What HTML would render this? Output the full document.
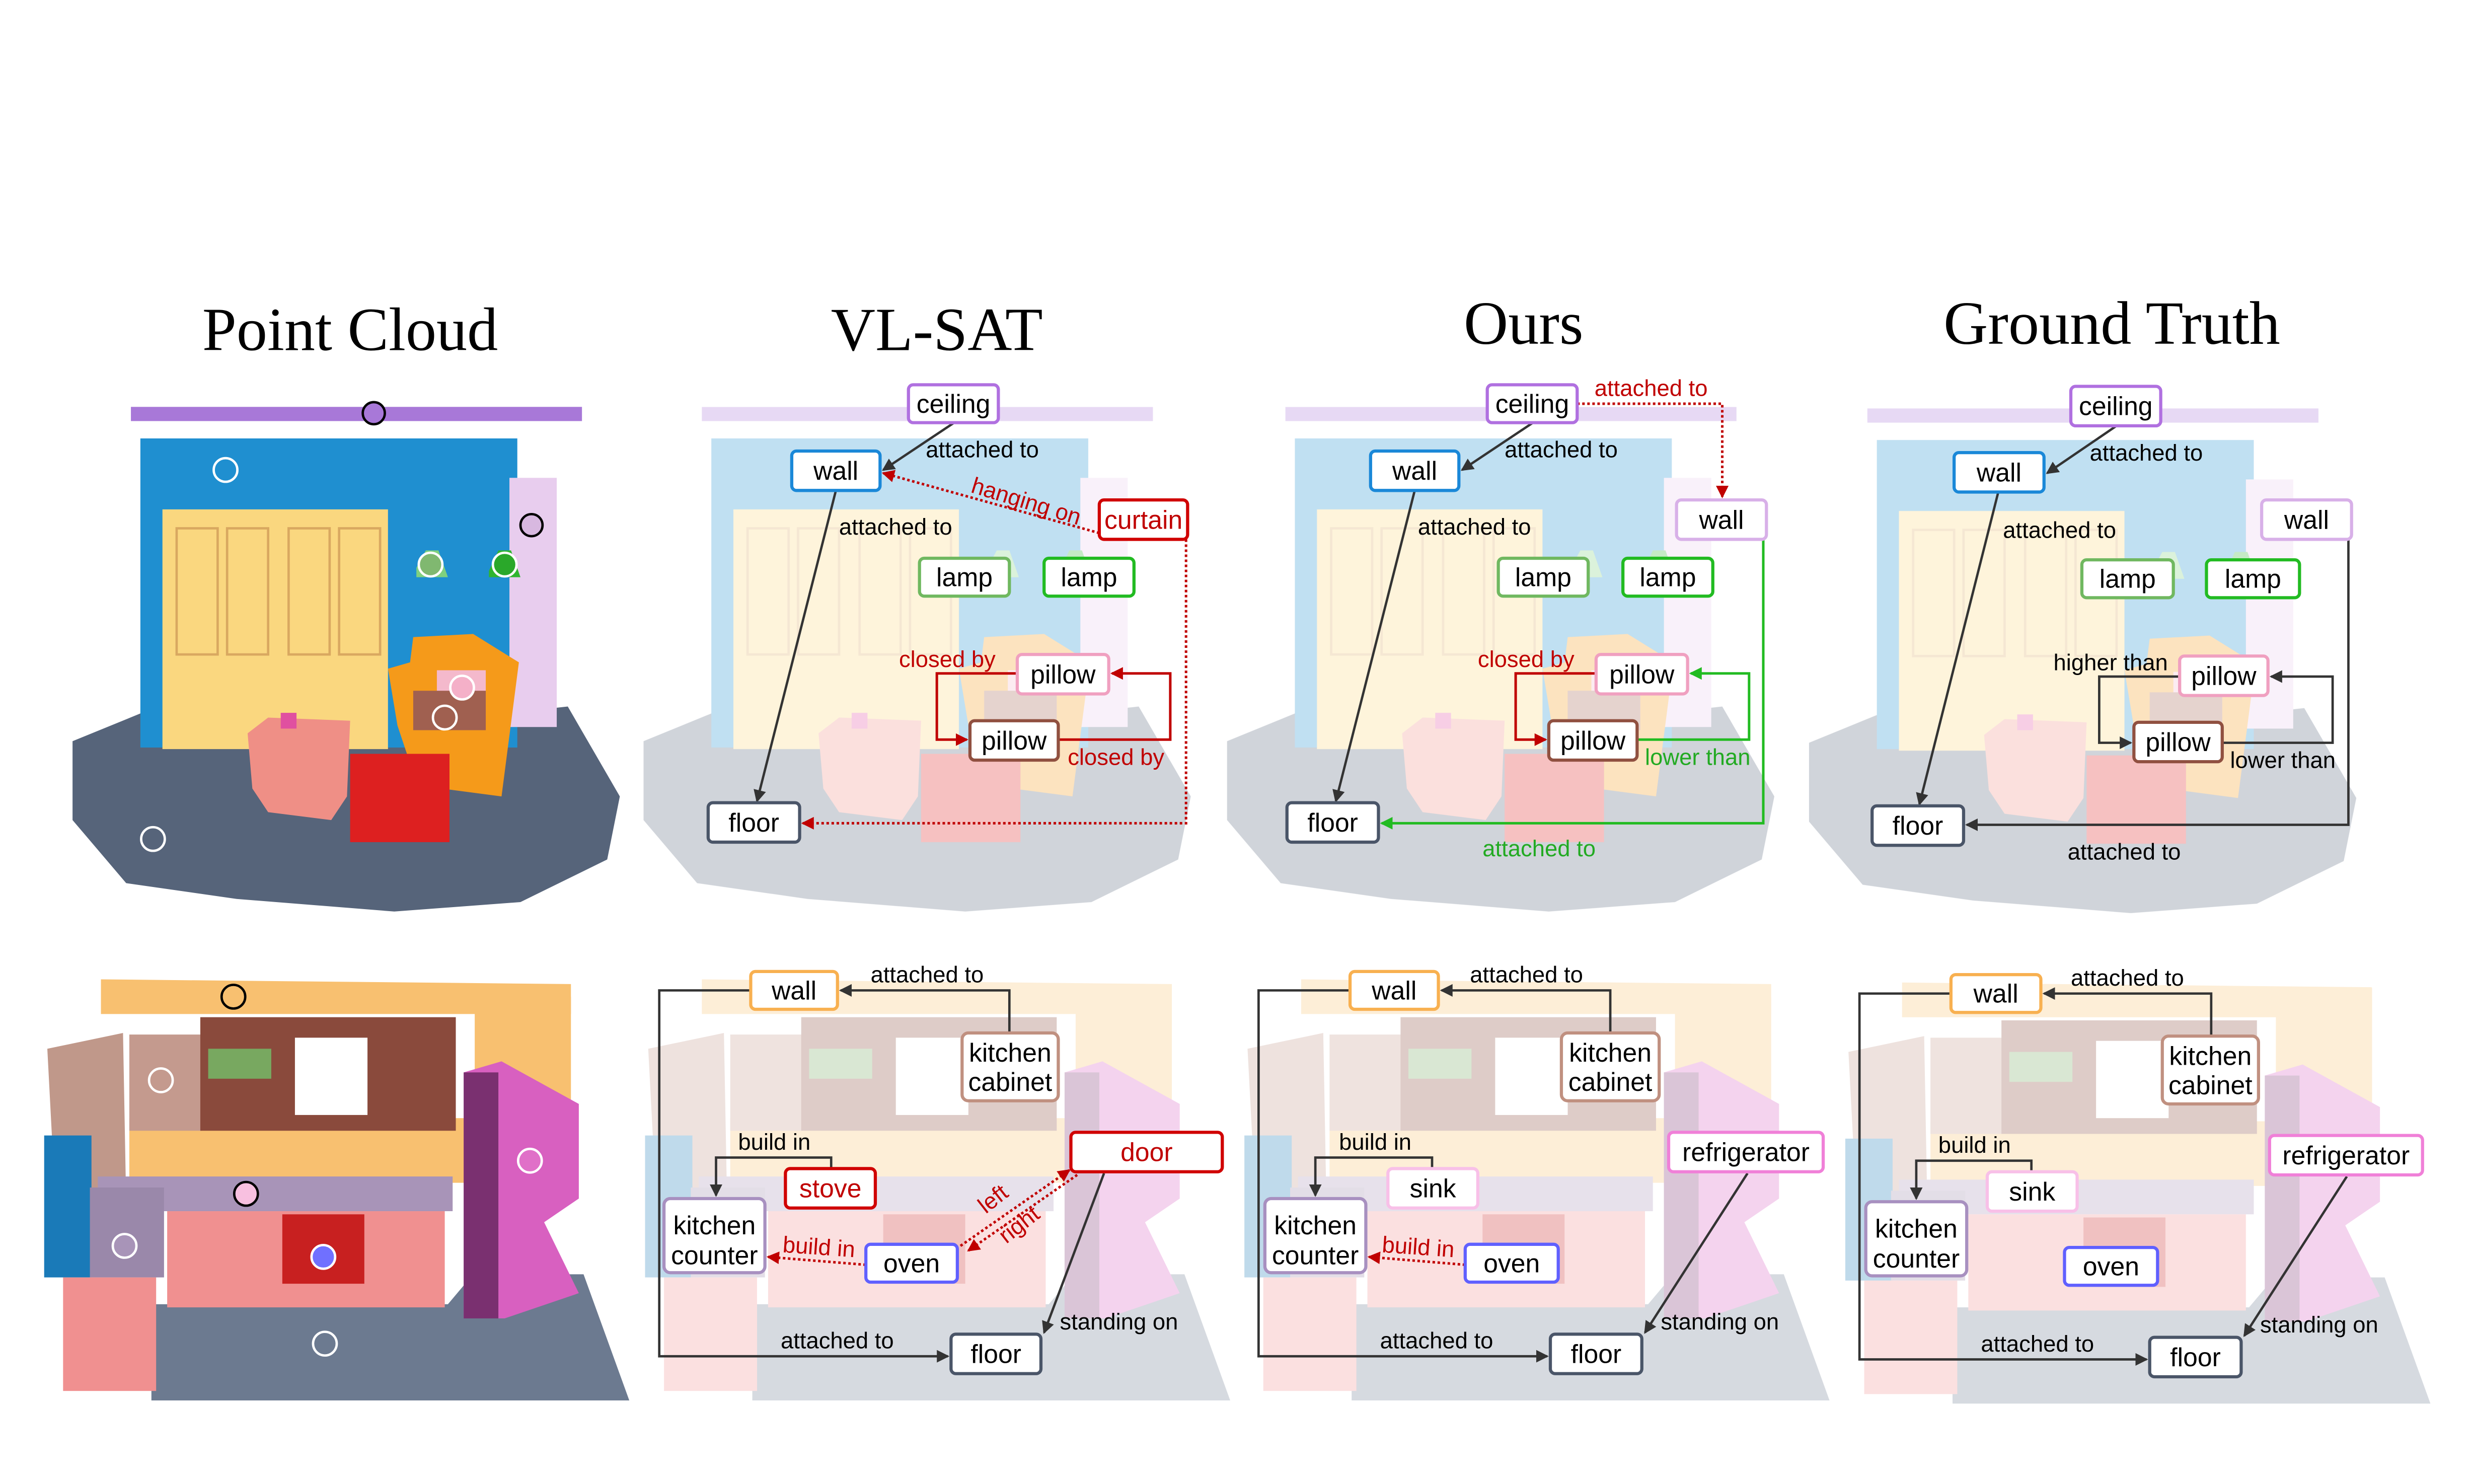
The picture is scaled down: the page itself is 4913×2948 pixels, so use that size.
<!DOCTYPE html>
<html><head><meta charset="utf-8"><style>
html,body{margin:0;padding:0;background:#fff;}
svg{display:block;}
.t{font-family:"Liberation Serif",serif;font-size:39px;fill:#000;text-anchor:middle;}
.n{font-family:"Liberation Sans",sans-serif;font-size:16.5px;fill:#000;text-anchor:middle;dominant-baseline:central;}
.e{font-family:"Liberation Sans",sans-serif;font-size:14.5px;fill:#000;}
.r{fill:#c00000;}
.g{fill:#22aa22;}
.bx{fill:#fff;stroke-width:2;}
.k{fill:none;stroke:#333;stroke-width:1.5;}
.rd{fill:none;stroke:#c00000;stroke-width:1.6;stroke-dasharray:1.6 1.6;}
.rs{fill:none;stroke:#c00000;stroke-width:1.6;}
.gs{fill:none;stroke:#22bb22;stroke-width:1.6;}
</style></head><body>
<svg width="4913" height="2948" viewBox="0 0 1568 941" preserveAspectRatio="none" xmlns="http://www.w3.org/2000/svg">
<defs>
<marker id="ak" markerWidth="8" markerHeight="8" refX="7" refY="4" orient="auto" markerUnits="userSpaceOnUse"><path d="M0,0 L8,4 L0,8 z" fill="#333"/></marker>
<marker id="ar" markerWidth="8" markerHeight="8" refX="7" refY="4" orient="auto" markerUnits="userSpaceOnUse"><path d="M0,0 L8,4 L0,8 z" fill="#c00000"/></marker>
<marker id="ag" markerWidth="8" markerHeight="8" refX="7" refY="4" orient="auto" markerUnits="userSpaceOnUse"><path d="M0,0 L8,4 L0,8 z" fill="#22bb22"/></marker>
<g id="s1">
<path d="M46,470 L90,452 L250,460 L360,448 L393,505 L385,545 L330,572 L250,578 L150,570 L80,560 L46,520 z" fill="#56647a"/>
<rect x="83" y="258" width="286" height="9" fill="#a878d8"/>
<rect x="89" y="278" width="239" height="196" fill="#1f8fd0"/>
<rect x="323" y="303" width="30" height="158" fill="#e8cdee"/>
<rect x="103" y="323" width="143" height="152" fill="#fad77f"/>
<g fill="none" stroke="#d9a860" stroke-width="1.5"><rect x="112" y="335" width="26" height="80"/><rect x="144" y="335" width="26" height="80"/><rect x="183" y="335" width="26" height="80"/><rect x="215" y="335" width="26" height="80"/></g>
<path d="M264,360 L270,349 L278,349 L284,366 L264,366 z" fill="#7fd07f"/>
<path d="M310,362 L316,349 L324,349 L330,366 L310,366 z" fill="#2fb52f"/>
<path d="M252,460 L246,424 L260,420 L262,404 L300,402 L329,420 L318,505 L280,500 L262,490 z" fill="#f59a1a"/>
<rect x="277" y="425" width="31" height="29" fill="#f4b9cc"/>
<rect x="262" y="438" width="46" height="25" fill="#a06050"/>
<path d="M157,465 L170,455 L222,457 L220,505 L210,520 L170,515 L160,500 z" fill="#ef8f86"/>
<rect x="178" y="452" width="10" height="10" fill="#e050a0"/>
<rect x="222" y="478" width="63" height="56" fill="#dd2020"/>
</g>
<g id="s2">
<path d="M96,827 L284,827 L300,808 L370,808 L399,888 L96,888 z" fill="#6c7a90"/>
<rect x="301" y="632" width="61" height="120" fill="#f8c070"/>
<path d="M64,621 L362,624 L362,643 L64,643 z" fill="#f8c070"/>
<rect x="82" y="709" width="219" height="41" fill="#f8c070"/>
<rect x="82" y="656" width="46" height="61" fill="#c49a8e"/>
<rect x="127" y="645" width="162" height="72" fill="#8a4a3c"/>
<rect x="187" y="658" width="46" height="49" fill="#fff"/>
<rect x="132" y="665" width="40" height="19" fill="#78a860"/>
<path d="M30,665 L78,655 L80,763 L35,760 z" fill="#c0988a"/>
<rect x="28" y="720" width="30" height="90" fill="#1a7ab8"/>
<rect x="62" y="746" width="225" height="22" fill="#a894b8"/>
<rect x="57" y="753" width="47" height="57" fill="#9a88aa"/>
<rect x="106" y="768" width="176" height="61" fill="#f09090"/>
<rect x="40" y="810" width="59" height="72" fill="#f09090"/>
<path d="M294,680 L318,673 L367,700 L367,760 L345,775 L367,820 L320,836 L294,836 z" fill="#d860c0"/>
<rect x="294" y="680" width="22" height="156" fill="#7a3070"/>
<rect x="179" y="770" width="52" height="44" fill="#c82020"/>
</g>
</defs>

<text class="t" x="222" y="222">Point Cloud</text>
<text class="t" x="594" y="222">VL-SAT</text>
<text class="t" x="966" y="218">Ours</text>
<text class="t" x="1339" y="218">Ground Truth</text>

<use href="#s1"/>
<g stroke-width="1.5">
<circle cx="237" cy="262" r="7" fill="#a878d8" stroke="#000"/>
<circle cx="143" cy="298" r="7.5" fill="none" stroke="#fff"/>
<circle cx="337" cy="333" r="7" fill="#d8b8e0" stroke="#000"/>
<circle cx="273" cy="358" r="7.5" fill="#80b870" stroke="#fff"/>
<circle cx="320" cy="358" r="7.5" fill="#2aa82a" stroke="#fff"/>
<circle cx="293" cy="436" r="7.5" fill="#f4b0c8" stroke="#fff"/>
<circle cx="282" cy="455" r="7.5" fill="#a06050" stroke="#fff"/>
<circle cx="97" cy="532" r="7.5" fill="none" stroke="#fff"/>
</g>
<use href="#s2"/>
<g stroke-width="1.5">
<circle cx="148" cy="632" r="7.5" fill="#f8c070" stroke="#000"/>
<circle cx="102" cy="685" r="7.5" fill="none" stroke="#fff"/>
<circle cx="336" cy="736" r="7.5" fill="#e070c8" stroke="#fff"/>
<circle cx="156" cy="757" r="7.5" fill="#f8c0e0" stroke="#000"/>
<circle cx="79" cy="790" r="7.5" fill="#a894b8" stroke="#fff"/>
<circle cx="205" cy="797" r="7.5" fill="#7070ff" stroke="#fff"/>
<circle cx="206" cy="852" r="7.5" fill="none" stroke="#fff"/>
</g>

<g opacity="0.28">
<use href="#s1" transform="translate(362,0)"/>
<use href="#s1" transform="translate(732,0)"/>
<use href="#s1" transform="translate(1101,1)"/>
<use href="#s2" transform="translate(381,0)"/>
<use href="#s2" transform="translate(761,0)"/>
<use href="#s2" transform="translate(1142,2)"/>
</g>

<path class="k" d="M605,268 L560,298" marker-end="url(#ak)"/>
<text class="e" x="587" y="290">attached to</text>
<path class="k" d="M530,311 L480,508" marker-end="url(#ak)"/>
<text class="e" x="532" y="339">attached to</text>
<path class="rd" d="M697,338 L560,300" marker-end="url(#ar)"/>
<text class="e r" x="615" y="312" transform="rotate(17 615 312)">hanging on</text>
<path class="rd" d="M752,342 L752,522 L509,522" marker-end="url(#ar)"/>
<path class="rs" d="M645,427 L594,427 L594,469 L613,469" marker-end="url(#ar)"/>
<text class="e r" x="570" y="423">closed by</text>
<path class="rs" d="M671,469 L742,469 L742,427 L705,427" marker-end="url(#ar)"/>
<text class="e r" x="677" y="485">closed by</text>
<rect class="bx" x="576" y="244" width="57" height="24" rx="3" stroke="#b070e0"/><text class="n" x="604.5" y="256">ceiling</text>
<rect class="bx" x="502" y="286" width="56" height="25" rx="3" stroke="#1a88d8"/><text class="n" x="530" y="298.5">wall</text>
<rect class="bx" x="697" y="317" width="56" height="25" rx="3" stroke="#d00000"/><text class="n r" x="725" y="329.5">curtain</text>
<rect class="bx" x="583" y="354" width="57" height="24" rx="3" stroke="#70b860"/><text class="n" x="611.5" y="366">lamp</text>
<rect class="bx" x="662" y="354" width="57" height="24" rx="3" stroke="#22bb22"/><text class="n" x="690.5" y="366">lamp</text>
<rect class="bx" x="645" y="415" width="58" height="25" rx="3" stroke="#f0a0c0"/><text class="n" x="674" y="427.5">pillow</text>
<rect class="bx" x="615" y="457" width="56" height="25" rx="3" stroke="#905040"/><text class="n" x="643" y="469.5">pillow</text>
<rect class="bx" x="449" y="509" width="58" height="25" rx="3" stroke="#4a5568"/><text class="n" x="478" y="521.5">floor</text>

<path class="k" d="M972,268 L927,298" marker-end="url(#ak)"/>
<text class="e" x="954" y="290">attached to</text>
<path class="k" d="M897,311 L847,508" marker-end="url(#ak)"/>
<text class="e" x="899" y="339">attached to</text>
<path class="rd" d="M1000,256 L1092,256 L1092,315" marker-end="url(#ar)"/>
<text class="e r" x="1011" y="251">attached to</text>
<path class="rs" d="M1012,427 L961,427 L961,469 L980,469" marker-end="url(#ar)"/>
<text class="e r" x="937" y="423">closed by</text>
<path class="gs" d="M1038,469 L1109,469 L1109,427 L1072,427" marker-end="url(#ag)"/>
<text class="e g" x="1043" y="485">lower than</text>
<path class="gs" d="M1118,342 L1118,522 L876,522" marker-end="url(#ag)"/>
<text class="e g" x="940" y="543">attached to</text>
<rect class="bx" x="943" y="244" width="57" height="24" rx="3" stroke="#b070e0"/><text class="n" x="971.5" y="256">ceiling</text>
<rect class="bx" x="869" y="286" width="56" height="25" rx="3" stroke="#1a88d8"/><text class="n" x="897" y="298.5">wall</text>
<rect class="bx" x="1063" y="317" width="57" height="25" rx="3" stroke="#d8b0e8"/><text class="n" x="1091.5" y="329.5">wall</text>
<rect class="bx" x="950" y="354" width="57" height="24" rx="3" stroke="#70b860"/><text class="n" x="978.5" y="366">lamp</text>
<rect class="bx" x="1029" y="354" width="57" height="24" rx="3" stroke="#22bb22"/><text class="n" x="1057.5" y="366">lamp</text>
<rect class="bx" x="1012" y="415" width="58" height="25" rx="3" stroke="#f0a0c0"/><text class="n" x="1041" y="427.5">pillow</text>
<rect class="bx" x="982" y="457" width="56" height="25" rx="3" stroke="#905040"/><text class="n" x="1010" y="469.5">pillow</text>
<rect class="bx" x="816" y="509" width="58" height="25" rx="3" stroke="#4a5568"/><text class="n" x="845" y="521.5">floor</text>

<path class="k" d="M1342,270 L1298,300" marker-end="url(#ak)"/>
<text class="e" x="1325" y="292">attached to</text>
<path class="k" d="M1267,312 L1217,510" marker-end="url(#ak)"/>
<text class="e" x="1270" y="341">attached to</text>
<path class="k" d="M1382,429 L1331,429 L1331,471 L1351,471" marker-end="url(#ak)"/>
<text class="e" x="1302" y="425">higher than</text>
<path class="k" d="M1409,471 L1479,471 L1479,429 L1440,429" marker-end="url(#ak)"/>
<text class="e" x="1414" y="487">lower than</text>
<path class="k" d="M1489,342 L1489,523 L1247,523" marker-end="url(#ak)"/>
<text class="e" x="1311" y="545">attached to</text>
<rect class="bx" x="1313" y="245" width="57" height="25" rx="3" stroke="#b070e0"/><text class="n" x="1341.5" y="257.5">ceiling</text>
<rect class="bx" x="1239" y="287" width="57" height="25" rx="3" stroke="#1a88d8"/><text class="n" x="1267.5" y="299.5">wall</text>
<rect class="bx" x="1434" y="317" width="57" height="25" rx="3" stroke="#d8b0e8"/><text class="n" x="1462.5" y="329.5">wall</text>
<rect class="bx" x="1320" y="355" width="58" height="24" rx="3" stroke="#70b860"/><text class="n" x="1349" y="367">lamp</text>
<rect class="bx" x="1399" y="355" width="59" height="24" rx="3" stroke="#22bb22"/><text class="n" x="1428.5" y="367">lamp</text>
<rect class="bx" x="1382" y="416" width="56" height="25" rx="3" stroke="#f0a0c0"/><text class="n" x="1410" y="428.5">pillow</text>
<rect class="bx" x="1353" y="458" width="56" height="25" rx="3" stroke="#905040"/><text class="n" x="1381" y="470.5">pillow</text>
<rect class="bx" x="1187" y="511" width="58" height="25" rx="3" stroke="#4a5568"/><text class="n" x="1216" y="523.5">floor</text>

<path class="k" d="M640,655 L640,628 L533,628" marker-end="url(#ak)"/>
<text class="e" x="552" y="623">attached to</text>
<path class="k" d="M476,628 L418,628 L418,860 L601,860" marker-end="url(#ak)"/>
<text class="e" x="495" y="855">attached to</text>
<path class="k" d="M527,741 L527,734 L454,734 L454,758" marker-end="url(#ak)"/>
<text class="e" x="468" y="729">build in</text>
<path class="rd" d="M549,802 L487,797" marker-end="url(#ar)"/>
<text class="e r" x="496" y="794" transform="rotate(4 496 794)">build in</text>
<path class="rd" d="M609,790 L678,742" marker-end="url(#ar)"/>
<path class="rd" d="M683,745 L614,793" marker-end="url(#ar)"/>
<text class="e r" x="625" y="770" transform="rotate(-38 625 770)">left</text>
<text class="e r" x="638" y="789" transform="rotate(-38 638 789)">right</text>
<path class="k" d="M700,744 L662,845" marker-end="url(#ak)"/>
<text class="e" x="672" y="843">standing on</text>
<rect class="bx" x="476" y="616" width="55" height="24" rx="3" stroke="#f8b050"/><text class="n" x="503.5" y="628">wall</text>
<rect class="bx" x="610" y="655" width="61" height="43" rx="4" stroke="#c09080"/><text class="n" x="640.5" y="667.5">kitchen</text><text class="n" x="640.5" y="686">cabinet</text>
<rect class="bx" x="498" y="741" width="57" height="25" rx="3" stroke="#d00000"/><text class="n r" x="526.5" y="753.5">stove</text>
<rect class="bx" x="679" y="718" width="96" height="25" rx="3" stroke="#d00000"/><text class="n r" x="727" y="730.5">door</text>
<rect class="bx" x="421" y="760" width="64" height="47" rx="4" stroke="#a890c0"/><text class="n" x="453" y="777">kitchen</text><text class="n" x="453" y="796">counter</text>
<rect class="bx" x="549" y="789" width="58" height="24" rx="3" stroke="#6060ff"/><text class="n" x="578" y="801">oven</text>
<rect class="bx" x="603" y="846" width="57" height="25" rx="3" stroke="#4a5568"/><text class="n" x="631.5" y="858.5">floor</text>

<path class="k" d="M1021,655 L1021,628 L914,628" marker-end="url(#ak)"/>
<text class="e" x="932" y="623">attached to</text>
<path class="k" d="M856,628 L798,628 L798,860 L981,860" marker-end="url(#ak)"/>
<text class="e" x="875" y="855">attached to</text>
<path class="k" d="M908,741 L908,734 L834,734 L834,758" marker-end="url(#ak)"/>
<text class="e" x="849" y="729">build in</text>
<path class="rd" d="M929,802 L868,797" marker-end="url(#ar)"/>
<text class="e r" x="876" y="794" transform="rotate(4 876 794)">build in</text>
<path class="k" d="M1108,744 L1043,845" marker-end="url(#ak)"/>
<text class="e" x="1053" y="843">standing on</text>
<rect class="bx" x="856" y="616" width="56" height="24" rx="3" stroke="#f8b050"/><text class="n" x="884" y="628">wall</text>
<rect class="bx" x="990" y="655" width="62" height="43" rx="4" stroke="#c09080"/><text class="n" x="1021" y="667.5">kitchen</text><text class="n" x="1021" y="686">cabinet</text>
<rect class="bx" x="880" y="741" width="57" height="25" rx="3" stroke="#f8c0e8"/><text class="n" x="908.5" y="753.5">sink</text>
<rect class="bx" x="1058" y="718" width="98" height="25" rx="3" stroke="#f080d8"/><text class="n" x="1107" y="730.5">refrigerator</text>
<rect class="bx" x="802" y="760" width="64" height="47" rx="4" stroke="#a890c0"/><text class="n" x="834" y="777">kitchen</text><text class="n" x="834" y="796">counter</text>
<rect class="bx" x="929" y="789" width="59" height="24" rx="3" stroke="#6060ff"/><text class="n" x="958.5" y="801">oven</text>
<rect class="bx" x="983" y="846" width="58" height="25" rx="3" stroke="#4a5568"/><text class="n" x="1012" y="858.5">floor</text>

<path class="k" d="M1402,657 L1402,630 L1296,630" marker-end="url(#ak)"/>
<text class="e" x="1313" y="625">attached to</text>
<path class="k" d="M1237,630 L1179,630 L1179,862 L1361,862" marker-end="url(#ak)"/>
<text class="e" x="1256" y="857">attached to</text>
<path class="k" d="M1288,743 L1288,736 L1215,736 L1215,760" marker-end="url(#ak)"/>
<text class="e" x="1229" y="731">build in</text>
<path class="k" d="M1488,746 L1423,847" marker-end="url(#ak)"/>
<text class="e" x="1433" y="845">standing on</text>
<rect class="bx" x="1237" y="618" width="57" height="24" rx="3" stroke="#f8b050"/><text class="n" x="1265.5" y="630">wall</text>
<rect class="bx" x="1371" y="657" width="61" height="43" rx="4" stroke="#c09080"/><text class="n" x="1401.5" y="669.5">kitchen</text><text class="n" x="1401.5" y="688">cabinet</text>
<rect class="bx" x="1260" y="743" width="57" height="25" rx="3" stroke="#f8c0e8"/><text class="n" x="1288.5" y="755.5">sink</text>
<rect class="bx" x="1439" y="720" width="97" height="25" rx="3" stroke="#f080d8"/><text class="n" x="1487.5" y="732.5">refrigerator</text>
<rect class="bx" x="1183" y="762" width="64" height="47" rx="4" stroke="#a890c0"/><text class="n" x="1215" y="779">kitchen</text><text class="n" x="1215" y="798">counter</text>
<rect class="bx" x="1309" y="791" width="59" height="24" rx="3" stroke="#6060ff"/><text class="n" x="1338.5" y="803">oven</text>
<rect class="bx" x="1363" y="848" width="58" height="25" rx="3" stroke="#4a5568"/><text class="n" x="1392" y="860.5">floor</text>
</svg>
</body></html>
